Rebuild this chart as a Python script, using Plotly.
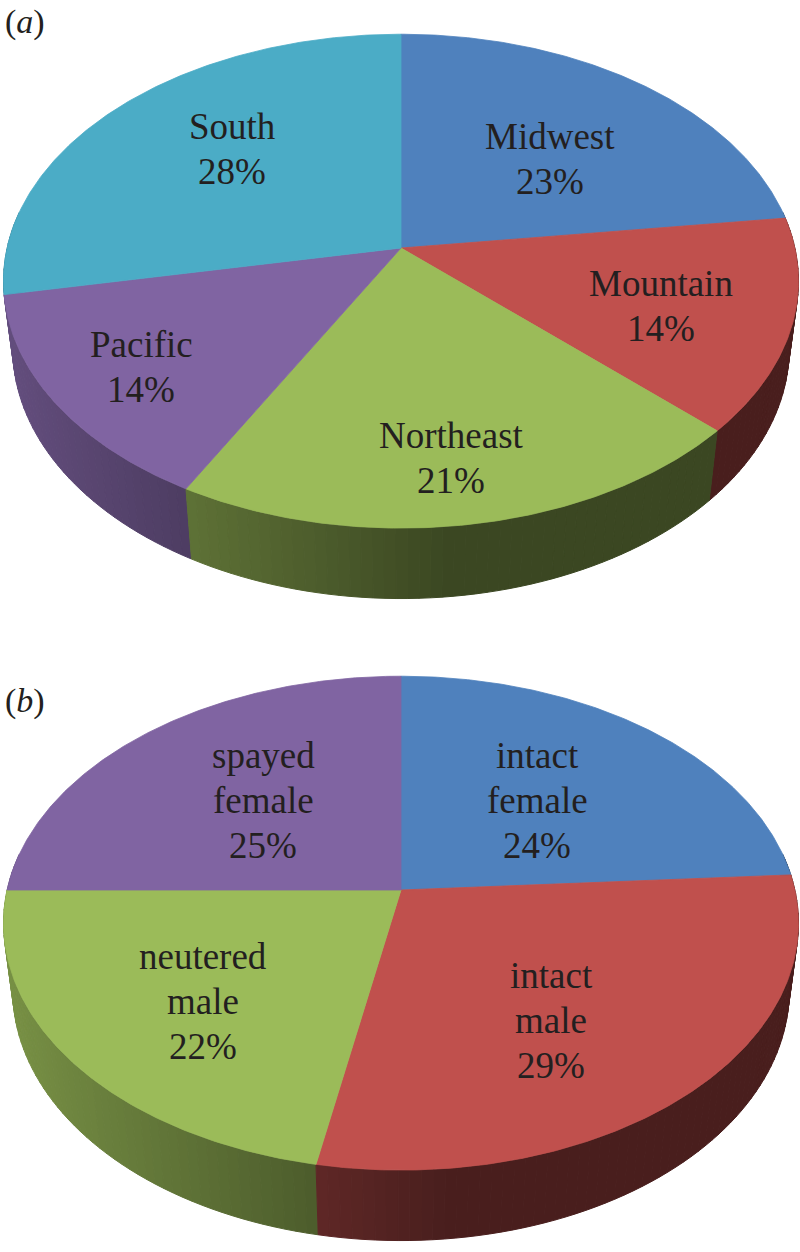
import numpy as np
import plotly.graph_objects as go

# ---------------- data ----------------
region_names = ["Midwest", "Mountain", "Northeast", "Pacific", "South"]
region_pct = [23, 14, 21, 14, 28]

sex_names = ["intact female", "intact male", "neutered male", "spayed female"]
sex_pct = [24, 29, 22, 25]

panel_tags = ["a", "b"]

# ---------------- style ----------------
slice_colors = ["#4F81BD", "#C0504D", "#9BBB59", "#8064A2", "#4BACC6"]
TEXT_COLOR = "#231F20"
FONT = "Liberation Serif"
W, H = 800, 1252

# 3-D view of the pie (tilt, camera distance, focal length, thickness)
ALPHA = np.radians(38.0)
CAM_DIST = 5.87
FOCAL = 2312.0
THICK = 0.223
LINE_GAP = 45

PANELS = [
    dict(names=region_names, values=region_pct, center=(401, 248),
         tag=panel_tags[0], tag_pos=(25, 22),
         label_offsets=[(149, -89.5), (260, 57.5), (50, 209.5), (-260, 118.5), (-169, -99.5)]),
    dict(names=sex_names, values=sex_pct, center=(401, 890),
         tag=panel_tags[1], tag_pos=(25, 701),
         label_offsets=[(136, -90), (150, 130), (-198, 111), (-138, -90)]),
]


def project(theta, r, z, cx, cy):
    theta = np.asarray(theta, dtype=float)
    X = r * np.sin(theta)
    Y = r * np.cos(theta)
    yc = Y * np.sin(ALPHA) + z * np.cos(ALPHA)
    d = Y * np.cos(ALPHA) - z * np.sin(ALPHA)
    return cx + FOCAL * X / (CAM_DIST + d), cy - FOCAL * yc / (CAM_DIST + d)


def hex_rgb(h):
    h = h.lstrip("#")
    return [int(h[i:i + 2], 16) for i in (0, 2, 4)]


def shade(hexcol, f):
    r, g, b = [int(round(min(255, c * f))) for c in hex_rgb(hexcol)]
    return f"rgb({r},{g},{b})"


def side_factor(theta):
    nx, ny = np.sin(theta), np.cos(theta)
    lx, ly = -1.0, -0.1
    dot = (nx * lx + ny * ly) / np.hypot(lx, ly)
    return 0.38 + 0.40 * max(dot, 0.0)


fig = go.Figure()
annotations = []

for p in PANELS:
    cx, cy = p["center"]
    vals = np.array(p["values"], dtype=float)
    frac = vals / vals.sum()
    edges = np.concatenate([[0.0], np.cumsum(frac)]) * 2 * np.pi

    # ---- side wall strips (painter's order: far first) ----
    strips = []
    lo_vis, hi_vis = np.pi / 2 - 0.15, 3 * np.pi / 2 + 0.15
    for i in range(len(vals)):
        t0, t1 = max(edges[i], lo_vis), min(edges[i + 1], hi_vis)
        if t1 <= t0:
            continue
        n = max(1, int(np.ceil((t1 - t0) / np.radians(1.5))))
        ts = np.linspace(t0, t1, n + 1)
        for a, b in zip(ts[:-1], ts[1:]):
            tt = np.linspace(a, b, 4)
            xt, yt = project(tt, 1.0, 0.0, cx, cy)
            xb, yb = project(tt[::-1], 1.0, -THICK, cx, cy)
            xs = np.concatenate([xt, xb, xt[:1]])
            ys = np.concatenate([yt, yb, yt[:1]])
            mid = 0.5 * (a + b)
            col = shade(slice_colors[i], side_factor(mid))
            depth = np.cos(mid)
            strips.append((depth, xs, ys, col))
    strips.sort(key=lambda s: -s[0])
    for _, xs, ys, col in strips:
        fig.add_trace(go.Scatter(x=xs, y=ys, mode="lines", fill="toself",
                                 fillcolor=col, line=dict(color=col, width=1),
                                 hoverinfo="skip", showlegend=False))

    # ---- top faces ----
    for i in range(len(vals)):
        n = max(2, int(np.ceil((edges[i + 1] - edges[i]) / np.radians(0.5))))
        ts = np.linspace(edges[i], edges[i + 1], n + 1)
        xa, ya = project(ts, 1.0, 0.0, cx, cy)
        xs = np.concatenate([[cx], xa, [cx]])
        ys = np.concatenate([[cy], ya, [cy]])
        fig.add_trace(go.Scatter(x=xs, y=ys, mode="lines", fill="toself",
                                 fillcolor=slice_colors[i],
                                 line=dict(color=slice_colors[i], width=0.8),
                                 hoverinfo="skip", showlegend=False))

    # ---- labels ----
    for name, v, (dx, dy) in zip(p["names"], p["values"], p["label_offsets"]):
        lines = name.split(" ") + [f"{v}%"]
        nl = len(lines)
        for k, txt in enumerate(lines):
            annotations.append(dict(
                x=cx + dx, y=cy + dy + (k - (nl - 1) / 2) * LINE_GAP,
                xref="x", yref="y", text=txt, showarrow=False,
                xanchor="center", yanchor="middle",
                font=dict(family=FONT, size=37, color=TEXT_COLOR)))

    tx, ty = p["tag_pos"]
    annotations.append(dict(x=tx, y=ty, xref="x", yref="y",
                            text=f"(<i>{p['tag']}</i>)", showarrow=False,
                            xanchor="center", yanchor="middle",
                            font=dict(family=FONT, size=34, color=TEXT_COLOR)))

fig.update_layout(
    width=W, height=H, autosize=False,
    margin=dict(l=0, r=0, t=0, b=0),
    paper_bgcolor="white", plot_bgcolor="white",
    font=dict(family=FONT),
    xaxis=dict(range=[0, W], visible=False, fixedrange=True),
    yaxis=dict(range=[H, 0], visible=False, fixedrange=True),
    annotations=annotations,
    showlegend=False,
)

fig.write_html("out.html", config={"displayModeBar": False},
               post_script="document.body.style.margin='0';document.body.style.padding='0';")
